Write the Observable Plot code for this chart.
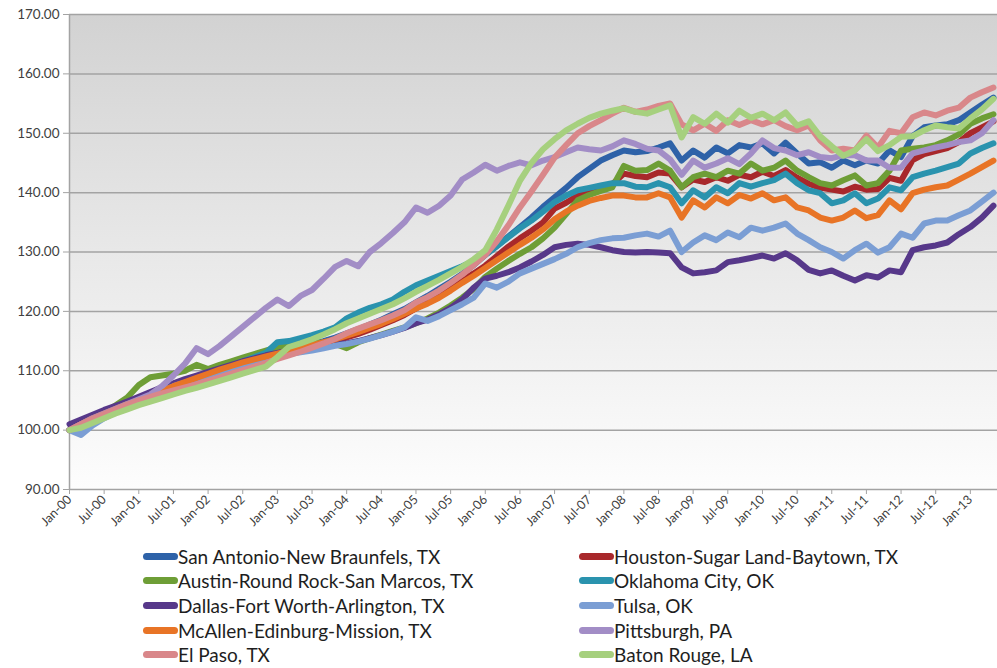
<!DOCTYPE html>
<html><head><meta charset="utf-8">
<script src="https://cdn.jsdelivr.net/npm/d3@7"></script>
<script src="https://cdn.jsdelivr.net/npm/@observablehq/plot@0.6"></script>
<style>
html,body{margin:0;padding:0;background:#fff;}
#wrap{position:relative;width:997px;height:668px;overflow:hidden;font-family:Lato,"Open Sans",sans-serif;}
#chart svg{display:block;}
.item{position:absolute;display:flex;align-items:center;height:24px;font-size:19px;color:#1e1e1e;white-space:nowrap;}
.sw{width:35px;height:7px;border-radius:4px;flex:none;}
</style></head><body>
<div id="wrap"><div id="chart"></div><div id="legend"></div></div>
<script>
// month index counted from Jan-2000, one reading every two months (Jan-00 … May-13)
const months = d3.range(0, 161, 2);
const tickMonths = d3.range(0, 157, 6);
const yTicks = [90, 100, 110, 120, 130, 140, 150, 160, 170];

const names = [
  "San Antonio-New Braunfels, TX", "Houston-Sugar Land-Baytown, TX",
  "Austin-Round Rock-San Marcos, TX", "Oklahoma City, OK",
  "Dallas-Fort Worth-Arlington, TX", "Tulsa, OK",
  "McAllen-Edinburg-Mission, TX", "Pittsburgh, PA",
  "El Paso, TX", "Baton Rouge, LA"
];
const colors = ["#2e62a8", "#a8282b", "#6e9e36", "#2a93ae", "#57388a",
                "#7b9ed4", "#e87426", "#a28dc6", "#d9878a", "#a6d07e"];

const sanAntonio = [
100.0,101.0,102.0,102.8,103.6,104.4, 105.2,106.0,106.8,107.5,108.2,108.8,
109.4,110.0,110.6,111.2,111.8,112.4, 113.0,113.6,114.0,114.5,115.0,115.6,
116.3,117.0,117.8,118.6,119.5,120.4, 121.5,122.6,123.8,125.0,126.3,127.8,
129.5,131.0,132.6,134.2,135.8,137.6, 139.2,140.8,142.6,144.0,145.4,146.3,
147.1,146.8,147.0,147.6,148.3,145.4, 147.1,145.9,147.6,146.6,148.0,147.6,
148.3,146.6,148.4,146.6,144.9,145.1, 144.2,145.4,144.6,145.4,144.9,147.1,
146.0,149.5,151.0,151.3,151.5,152.2, 153.5,154.8,156.0];
const houston = [
100.0,101.0,102.0,102.8,103.6,104.4, 105.2,106.0,106.8,107.5,108.2,108.8,
109.4,110.0,110.6,111.2,111.8,112.3, 112.8,113.3,113.8,114.2,114.6,115.1,
115.6,116.2,116.9,117.7,118.5,119.4, 120.5,121.6,122.8,124.0,125.2,126.4,
127.7,129.3,130.9,132.3,133.6,135.0, 137.3,138.3,139.5,140.2,140.8,141.4,
143.2,142.8,142.6,143.4,143.2,140.9, 142.2,141.8,142.6,142.0,143.0,142.6,
143.5,142.8,143.8,142.5,141.5,140.8, 140.5,140.2,141.0,140.5,140.6,142.5,
142.0,145.5,146.5,147.0,147.5,148.5, 150.0,151.0,152.0];
const austin = [
100.0,101.0,102.0,103.0,104.2,105.5, 107.6,108.9,109.2,109.5,110.0,111.0,
110.3,111.0,111.6,112.2,112.8,113.4, 114.0,114.4,114.6,114.8,114.7,114.5,
113.8,114.8,115.5,116.1,116.7,117.3, 118.0,118.8,119.8,121.0,122.3,123.8,
125.8,127.2,128.5,129.7,130.8,132.3, 134.1,136.4,138.7,139.6,140.3,140.9,
144.5,143.7,143.8,144.9,143.7,140.9, 142.6,143.2,142.6,143.7,143.2,144.9,
143.7,144.2,145.4,143.7,142.6,141.6, 141.2,142.1,142.9,141.2,141.6,143.7,
147.1,147.4,147.6,148.0,148.8,149.8, 151.6,152.5,153.2];
const oklahomaCity = [
100.0,101.0,102.0,102.8,103.6,104.4, 105.2,106.0,106.8,107.5,108.2,108.8,
109.5,110.2,110.9,111.6,112.3,113.0, 114.8,115.0,115.5,116.0,116.6,117.3,
118.8,119.8,120.6,121.2,122.0,123.3, 124.4,125.2,126.0,126.8,127.6,128.5,
129.5,131.0,132.5,134.0,135.3,136.8, 138.4,139.5,140.4,140.8,141.2,141.6,
141.6,141.0,140.9,141.6,140.9,138.2, 140.4,139.2,140.9,139.9,141.6,141.0,
141.6,142.1,143.2,141.6,140.4,139.9, 138.2,138.7,139.9,138.2,139.0,140.9,
140.4,142.6,143.2,143.7,144.3,144.9, 146.6,147.5,148.3];
const dallas = [
101.0,101.8,102.6,103.4,104.1,104.8, 105.6,106.4,107.2,107.9,108.6,109.2,
109.8,110.4,111.0,111.6,112.1,112.6, 113.0,113.4,113.7,114.0,114.3,114.6,
114.6,115.0,115.5,116.0,116.6,117.2, 118.0,118.6,119.5,120.6,122.0,124.0,
125.5,126.0,126.6,127.4,128.4,129.5, 130.8,131.2,131.4,131.2,130.8,130.3,
130.0,129.9,130.0,129.9,129.8,127.4, 126.4,126.6,126.9,128.3,128.6,129.0,
129.4,128.9,129.8,128.6,127.0,126.4, 126.9,126.0,125.2,126.1,125.7,126.9,
126.6,130.3,130.8,131.1,131.6,133.0, 134.2,135.8,137.8];
const tulsa = [
100.0,99.2,100.8,102.0,103.0,104.0, 105.0,105.8,106.6,107.4,108.0,108.6,
109.2,109.8,110.4,111.0,111.5,112.0, 112.4,112.8,113.1,113.4,113.8,114.2,
114.5,114.9,115.4,116.0,116.6,117.3, 119.0,118.4,119.2,120.2,121.2,122.3,
124.7,124.0,125.0,126.4,127.2,128.0, 128.8,129.7,130.8,131.5,132.0,132.3,
132.4,132.8,133.1,132.6,133.6,130.0, 131.6,132.8,132.0,133.3,132.5,134.1,
133.6,134.1,134.8,133.1,132.0,130.8, 130.0,128.9,130.3,131.4,129.9,130.8,
133.1,132.4,134.8,135.3,135.3,136.2, 137.0,138.5,140.0];
const mcallen = [
100.0,101.0,102.0,102.8,103.6,104.4, 105.0,105.8,106.6,107.4,108.1,108.8,
109.5,110.2,110.8,111.4,111.9,112.4, 112.9,113.4,113.8,114.3,114.8,115.3,
115.9,116.5,117.2,117.9,118.7,119.6, 120.5,121.3,122.3,123.5,124.8,126.0,
127.3,128.6,129.9,131.2,132.4,133.8, 135.5,136.8,137.8,138.6,139.1,139.5,
139.5,139.2,139.2,139.9,139.2,135.8, 138.7,137.5,139.2,138.2,139.6,139.0,
139.9,138.7,139.2,137.5,137.0,135.8, 135.3,135.8,137.0,135.7,136.2,138.7,
137.2,139.9,140.5,140.9,141.2,142.2, 143.2,144.3,145.4];
const pittsburgh = [
100.0,101.0,102.0,102.8,103.6,104.4, 105.2,106.0,107.4,109.2,111.2,113.8,
112.8,114.2,115.8,117.4,119.0,120.6, 122.0,120.9,122.6,123.6,125.5,127.5,
128.5,127.6,130.0,131.5,133.2,135.0, 137.5,136.6,137.8,139.5,142.2,143.4,
144.7,143.7,144.5,145.1,144.6,145.4, 146.0,146.8,147.6,147.3,147.1,147.8,
148.8,148.2,147.4,147.1,145.6,143.0, 145.4,144.2,144.9,145.8,144.8,146.6,
148.8,147.5,147.1,146.3,146.8,146.0, 145.8,146.3,146.3,145.4,145.4,144.2,
144.2,146.6,147.1,147.6,148.0,148.5, 148.8,150.0,152.2];
const elPaso = [
100.0,101.0,101.9,102.7,103.5,104.3, 105.0,105.6,106.2,106.7,107.2,107.7,
108.3,108.9,109.5,110.1,110.7,111.3, 112.0,112.6,113.2,113.9,114.6,115.4,
116.3,117.1,117.8,118.5,119.3,120.2, 121.5,122.4,123.5,124.8,126.2,127.8,
129.5,131.8,134.5,137.5,140.2,143.0, 145.9,148.0,150.0,151.2,152.2,153.3,
154.3,153.6,154.0,154.6,155.0,151.5, 150.5,151.6,150.4,152.2,151.4,152.2,
151.5,152.2,151.2,150.5,151.3,148.8, 147.1,147.4,147.1,149.6,147.6,150.4,
150.0,152.7,153.5,153.0,153.8,154.3, 156.0,156.9,157.7];
const batonRouge = [
100.0,100.4,101.2,102.0,102.8,103.5, 104.2,104.8,105.4,106.0,106.6,107.1,
107.7,108.3,108.9,109.5,110.1,110.7, 112.3,114.0,114.6,115.3,116.1,117.0,
118.0,118.8,119.6,120.4,121.2,122.2, 123.3,124.3,125.3,126.4,127.5,128.8,
130.3,133.8,137.8,142.0,145.0,147.3, 149.0,150.5,151.6,152.6,153.3,153.8,
154.2,153.6,153.3,154.0,154.7,149.3, 152.7,151.6,153.3,151.8,153.8,152.6,
153.3,152.2,153.5,151.3,152.0,149.5, 147.8,146.2,147.1,149.0,147.0,148.0,
149.4,149.5,150.5,151.3,151.0,150.8, 152.5,154.0,155.8];

const values = [sanAntonio, houston, austin, oklahomaCity, dallas, tulsa,
                mcallen, pittsburgh, elPaso, batonRouge];

const rows = names.flatMap((name, s) => values[s].map((v, i) => ({name, m: months[i], v})));
const fmtMonth = m => (m % 12 === 0 ? "Jan" : "Jul") + "-" + String(Math.floor(m / 12)).padStart(2, "0");

const svg = Plot.plot({
  width: 997, height: 540,
  marginLeft: 69, marginRight: 0, marginTop: 14, marginBottom: 51,
  style: {fontFamily: "Lato, 'Open Sans', sans-serif", background: "transparent", overflow: "visible"},
  x: {domain: [0, 160.7]},
  y: {domain: [90, 170]},
  color: {domain: names, range: colors},
  marks: [
    Plot.frame({fill: "url(#bgGrad)", stroke: null}),
    Plot.ruleY(yTicks, {stroke: "#a3a3a3", strokeWidth: 1.5}),
    Plot.ruleX([0], {stroke: "#a3a3a3", strokeWidth: 1.5}),
    Plot.axisY({ticks: yTicks, tickFormat: d => d.toFixed(2), tickSize: 6, tickPadding: 4,
                fontSize: 13.5, stroke: "#a3a3a3", fill: "#404040", label: null}),
    Plot.axisX({ticks: tickMonths, tickFormat: fmtMonth, tickSize: 5, tickPadding: 3,
                tickRotate: -45, fontSize: 12.5, stroke: "#a3a3a3", fill: "#404040", label: null}),
    ...names.map(name => Plot.line(rows.filter(d => d.name === name), {
      x: "m", y: "v", stroke: "name", strokeWidth: 6,
      strokeLinejoin: "round", strokeLinecap: "round"
    }))
  ]
});

const ns = "http://www.w3.org/2000/svg";
const defs = document.createElementNS(ns, "defs");
defs.innerHTML = '<linearGradient id="bgGrad" x1="0" y1="0" x2="0" y2="1">' +
  '<stop offset="0" stop-color="#d2d2d2"/><stop offset="0.45" stop-color="#e6e6e6"/>' +
  '<stop offset="1" stop-color="#fdfdfd"/></linearGradient>';
svg.insertBefore(defs, svg.firstChild);
document.getElementById("chart").appendChild(svg);

// legend (two columns, five rows, row-wise order)
const legend = document.getElementById("legend");
const colX = [143, 579];
const rowY = [556, 580.5, 605, 630, 654.5];
names.forEach((name, i) => {
  const div = document.createElement("div");
  div.className = "item";
  div.style.left = colX[i % 2] + "px";
  div.style.top = (rowY[Math.floor(i / 2)] - 12) + "px";
  const sw = document.createElement("span");
  sw.className = "sw";
  sw.style.background = colors[i];
  const tx = document.createElement("span");
  tx.textContent = name;
  div.appendChild(sw);
  div.appendChild(tx);
  legend.appendChild(div);
});
</script>
</body></html>
